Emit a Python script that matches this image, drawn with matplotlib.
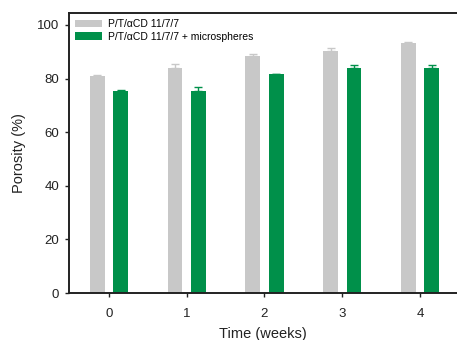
import matplotlib
matplotlib.use("Agg")
import matplotlib.pyplot as plt
import numpy as np

weeks = [0, 1, 2, 3, 4]
tick_labels = ["0", "1", "2", "3", "4"]
porosity_plain = [81.0, 83.8, 88.5, 90.3, 93.2]
err_plain = [0.4, 1.5, 0.6, 1.2, 0.3]
porosity_micro = [75.2, 75.5, 81.6, 83.8, 83.8]
err_micro = [0.5, 1.4, 0.3, 1.3, 1.4]
labels = ["P/T/\u03b1CD 11/7/7", "P/T/\u03b1CD 11/7/7 + microspheres"]

plt.rcParams['font.family'] = ['Liberation Sans', 'DejaVu Sans']

fig = plt.figure(figsize=(4.57, 3.4), dpi=100)
ax = fig.add_axes([0.151, 0.138, 0.849, 0.824])

gray = "#c8c8c8"
green = "#00904a"
x = np.array(weeks, dtype=float)
w = 0.19
off = 0.15
ax.bar(x - off, porosity_plain, w, color=gray, label=labels[0],
       yerr=[np.zeros(len(err_plain)), err_plain],
       error_kw=dict(ecolor=gray, capsize=3, elinewidth=1, capthick=1))
ax.bar(x + off, porosity_micro, w, color=green, label=labels[1],
       yerr=[np.zeros(len(err_micro)), err_micro],
       error_kw=dict(ecolor=green, capsize=3, elinewidth=1, capthick=1))

ax.set_xlim(-0.514, 4.476)
ax.set_ylim(0, 104.5)
ax.set_xticks(x)
ax.set_xticklabels(tick_labels)
ax.set_yticks([0, 20, 40, 60, 80, 100])
ax.tick_params(axis='both', labelsize=9.5, direction='out', length=3, width=1,
               colors='#222222')
ax.tick_params(axis='x', pad=7.5)
ax.tick_params(axis='y', pad=4)
ax.set_xlabel("Time (weeks)", fontsize=10.5, labelpad=5, color='#222222')
ax.set_ylabel("Porosity (%)", fontsize=10.5, labelpad=8, color='#222222')
for s in ['left', 'bottom', 'top']:
    ax.spines[s].set_linewidth(1.4)
    ax.spines[s].set_color('#222222')
ax.spines['right'].set_visible(False)

ax.legend(loc='upper left', frameon=False, fontsize=7.5, handlelength=2.6,
          handleheight=0.75, borderaxespad=0.2, labelspacing=0.25, handletextpad=0.5,
          bbox_to_anchor=(0.0, 1.0))

fig.savefig("out.png", dpi=100)
